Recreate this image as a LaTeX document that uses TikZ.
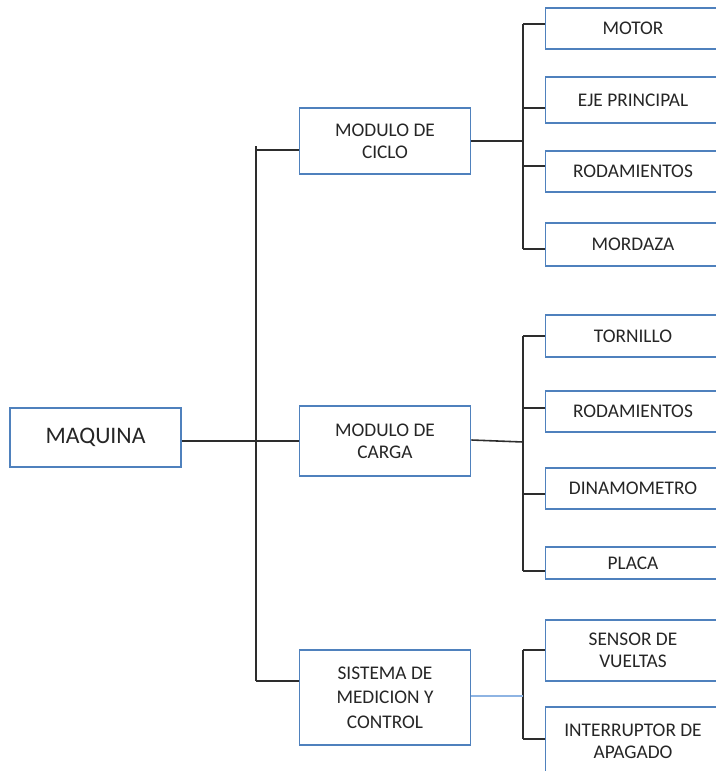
\documentclass[tikz,border=0pt]{standalone}
\usepackage{fontspec}
\setmainfont{Carlito}
\usetikzlibrary{positioning}
\definecolor{bordeazul}{RGB}{79,129,189}
\definecolor{lineagris}{RGB}{45,45,45}
\definecolor{lineaceleste}{RGB}{142,180,227}
\definecolor{texto}{RGB}{38,38,38}

\begin{document}
\begin{tikzpicture}[x=0.02cm, y=-0.02cm,
	caja/.style={rectangle, draw=bordeazul, line width=1pt, fill=white, inner sep=0pt, minimum width=3.42cm, align=center, text=texto, font=\fontsize{11}{12.5}\selectfont},
	hoja/.style={caja, minimum width=3.5cm},
	rama/.style={draw=lineagris, line width=0.9pt}]
		\clip (0, 0) rectangle (716, 771);
		\fill[white] (0, 0) rectangle (716, 771);

		% raiz y modulos
		\node[caja, minimum height=1.18cm, font=\fontsize{13.5}{15}\selectfont] (maquina) at (95.5, 437.5) {MAQUINA};
		\node[caja, minimum height=1.32cm] (ciclo) at (385, 141) {MODULO DE\\CICLO};
		\node[caja, minimum height=1.4cm] (carga) at (385, 441) {MODULO DE\\CARGA};
		\node[caja, minimum height=1.9cm, font=\fontsize{11}{14}\selectfont] (sistema) at (385, 697.5) {SISTEMA DE\\MEDICION Y\\CONTROL};

		% piezas del modulo de ciclo
		\node[hoja, minimum height=0.82cm] (motor) at (633, 28.5) {MOTOR};
		\node[hoja, minimum height=0.92cm] (eje) at (633, 100) {EJE PRINCIPAL};
		\node[hoja, minimum height=0.82cm] (rodA) at (633, 171.5) {RODAMIENTOS};
		\node[hoja, minimum height=0.86cm] (mordaza) at (633, 244.5) {MORDAZA};

		% piezas del modulo de carga
		\node[hoja, minimum height=0.84cm] (tornillo) at (633, 336) {TORNILLO};
		\node[hoja, minimum height=0.82cm] (rodB) at (633, 411.5) {RODAMIENTOS};
		\node[hoja, minimum height=0.82cm] (dinamometro) at (633, 488.5) {DINAMOMETRO};
		\node[hoja, minimum height=0.64cm] (placa) at (633, 563) {PLACA};

		% piezas del sistema
		\node[hoja, minimum height=1.22cm] (sensor) at (633, 650.5) {SENSOR DE\\VUELTAS};
		\node[hoja, minimum height=1.36cm] (interruptor) at (633, 741) {INTERRUPTOR DE\\APAGADO};

		% tronco principal
		\coordinate (troncoA) at (256, 146);
		\coordinate (troncoB) at (256, 681);
		\draw[rama] (troncoA) -- (troncoB);
		\draw[rama] (maquina.east |- 0, 441) -- (carga.west |- 0, 441);
		\draw[rama] (troncoA |- 0, 150) -- (ciclo.west |- 0, 150);
		\draw[rama] (troncoB) -- (troncoB -| sistema.west);

		% rama del modulo de ciclo
		\coordinate (bA1) at (523, 24);
		\coordinate (bA2) at (523, 108);
		\coordinate (bA3) at (523, 166);
		\coordinate (bA4) at (523, 249);
		\draw[rama] (bA1) -- (bA4);
		\draw[rama] (ciclo.east) -- (ciclo.east -| bA1);
		\draw[rama] (bA1) -- (bA1 -| motor.west);
		\draw[rama] (bA2) -- (bA2 -| eje.west);
		\draw[rama] (bA3) -- (bA3 -| rodA.west);
		\draw[rama] (bA4) -- (bA4 -| mordaza.west);

		% rama del modulo de carga
		\coordinate (bB1) at (523, 336);
		\coordinate (bB2) at (523, 408);
		\coordinate (bB3) at (523, 494);
		\coordinate (bB4) at (523, 571);
		\draw[rama] (bB1) -- (bB4);
		\draw[rama] (carga.east |- 0, 440) -- (bB1 |- 0, 442);
		\draw[rama] (bB1) -- (bB1 -| tornillo.west);
		\draw[rama] (bB2) -- (bB2 -| rodB.west);
		\draw[rama] (bB3) -- (bB3 -| dinamometro.west);
		\draw[rama] (bB4) -- (bB4 -| placa.west);

		% rama del sistema
		\coordinate (bC1) at (523, 650);
		\coordinate (bC2) at (523, 739);
		\draw[rama] (bC1) -- (bC2);
		\draw[draw=lineaceleste, line width=0.9pt] (sistema.east |- 0, 696) -- (bC1 |- 0, 696);
		\draw[rama] (bC1) -- (bC1 -| sensor.west);
		\draw[rama] (bC2) -- (bC2 -| interruptor.west);
\end{tikzpicture}
\end{document}
